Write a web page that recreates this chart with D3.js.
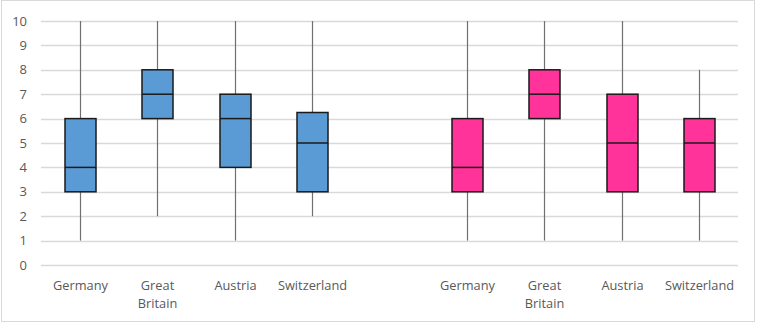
<!DOCTYPE html>
<html><head><meta charset="utf-8">
<script src="https://cdn.jsdelivr.net/npm/d3@7"></script>
<style>body{margin:0;background:#fff}svg{display:block}text{font-family:"Open Sans",Lato,sans-serif;fill:#595959}</style>
</head><body><svg id="c" width="757" height="323"></svg>
<script>
const categories = ["Germany","Great Britain","Austria","Switzerland"];
const groups = ["blue","pink"];
const blueMin = [1,2,1,2], blueQ1 = [3,6,4,3], blueMed = [4,7,6,5], blueQ3 = [6,8,7,6.25], blueMax = [10,10,10,10];
const pinkMin = [1,1,1,1], pinkQ1 = [3,6,3,3], pinkMed = [4,7,5,5], pinkQ3 = [6,8,7,6], pinkMax = [10,10,10,8];
const yTicks = [0,1,2,3,4,5,6,7,8,9,10];
const colors = {blue:"#5B9BD5", pink:"#FF3399"};

(function(){
const svg = d3.select("#c");
svg.append("rect").attr("x",1.5).attr("y",0.5).attr("width",753).attr("height",321).attr("fill","#fff").attr("stroke","#D9D9D9");

const pl = 41, pr = 738, pt = 21, pb = 265;
const slots = [];
categories.forEach((c,i)=>slots.push({g:"blue",i,c,key:"b"+i}));
slots.push({key:"gap"});
categories.forEach((c,i)=>slots.push({g:"pink",i,c,key:"p"+i}));
const x = d3.scaleBand().domain(slots.map(s=>s.key)).range([pl,pr]);
const y = d3.scaleLinear().domain([0,10]).range([pb,pt]);

svg.append("g").selectAll("line").data(yTicks).join("line")
  .attr("x1",pl).attr("x2",pr).attr("y1",d=>Math.round(y(d))+0.5).attr("y2",d=>Math.round(y(d))+0.5)
  .attr("stroke","#D9D9D9").attr("stroke-width",1.3);

svg.append("g").selectAll("text").data(yTicks).join("text")
  .attr("x",27).attr("y",d=>y(d)).attr("dy","0.36em").attr("text-anchor","end")
  .attr("font-size",13).text(d=>d);

const data = slots.filter(s=>s.g).map(s=>{
  const src = s.g==="blue" ? [blueMin,blueQ1,blueMed,blueQ3,blueMax] : [pinkMin,pinkQ1,pinkMed,pinkQ3,pinkMax];
  return {...s, min:src[0][s.i], q1:src[1][s.i], med:src[2][s.i], q3:src[3][s.i], max:src[4][s.i]};
});
const bw = 31;
const g = svg.append("g");
data.forEach(d=>{
  const cx = Math.round(x(d.key)+x.bandwidth()/2)+0.5;
  g.append("line").attr("x1",cx).attr("x2",cx).attr("y1",y(d.max)).attr("y2",y(d.q3)).attr("stroke","#707070").attr("stroke-width",1.2);
  g.append("line").attr("x1",cx).attr("x2",cx).attr("y1",y(d.q1)).attr("y2",y(d.min)).attr("stroke","#707070").attr("stroke-width",1.2);
  g.append("rect").attr("x",cx-bw/2).attr("y",y(d.q3)).attr("width",bw).attr("height",y(d.q1)-y(d.q3))
    .attr("fill",colors[d.g]).attr("stroke","#1a1a1a").attr("stroke-width",1.5);
  g.append("line").attr("x1",cx-bw/2).attr("x2",cx+bw/2).attr("y1",y(d.med)).attr("y2",y(d.med)).attr("stroke","#1a1a1a").attr("stroke-width",1.5);
  const words = d.c.split(" ");
  const t = g.append("text").attr("x",cx).attr("y",289.5).attr("text-anchor","middle").attr("font-size",12.8);
  words.forEach((w,k)=>t.append("tspan").attr("x",cx).attr("dy",k?18.5:0).text(w));
});
})();
</script></body></html>
